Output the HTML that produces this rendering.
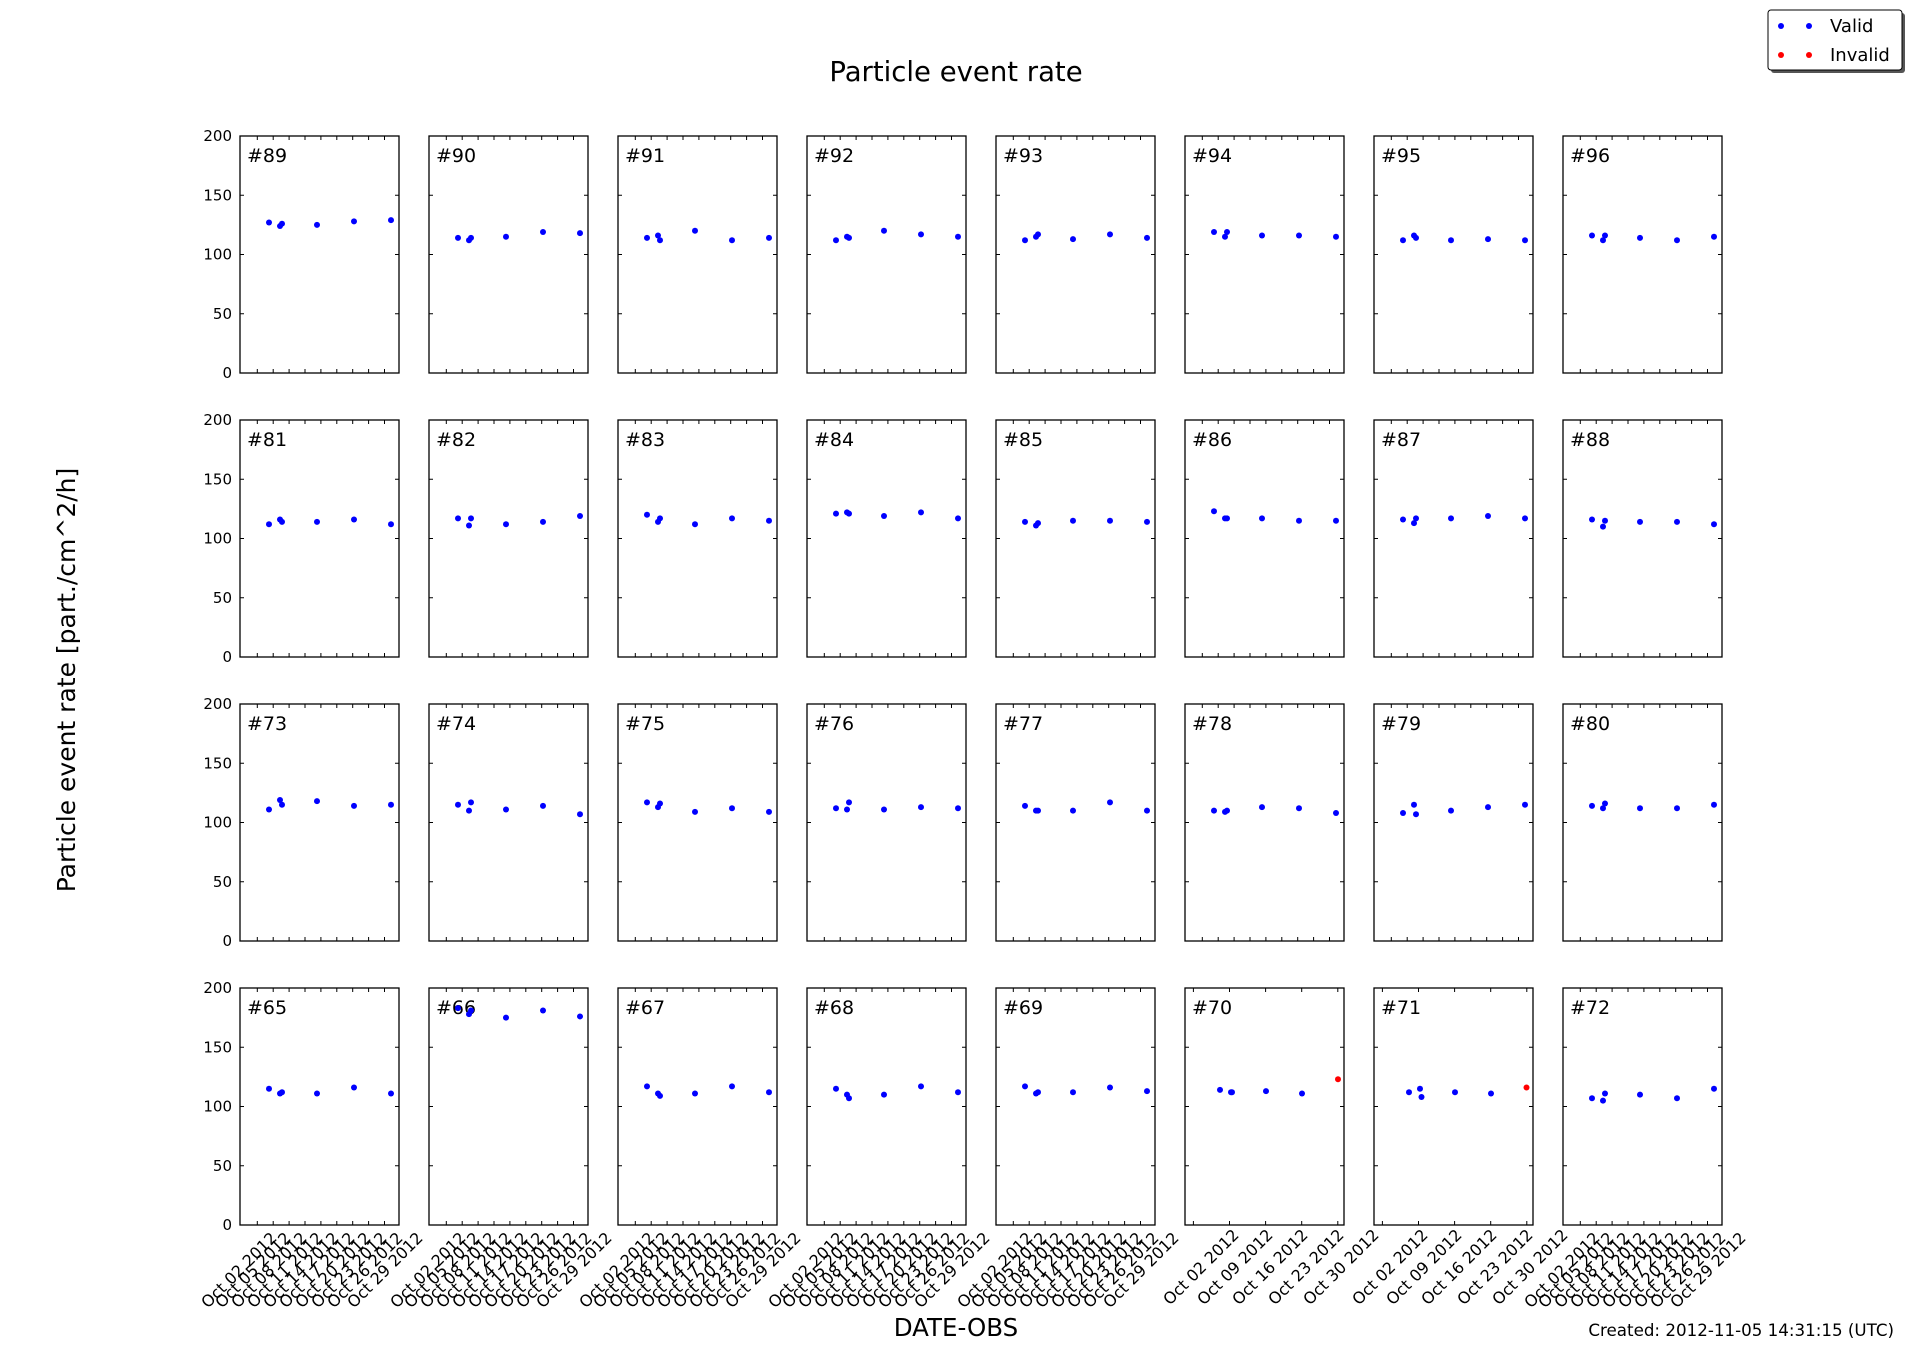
<!DOCTYPE html>
<html><head><meta charset="utf-8"><style>
html,body{margin:0;padding:0;background:#fff;}
svg{display:block;font-family:"DejaVu Sans","Liberation Sans",sans-serif;}
.f{fill:none;stroke:#000;stroke-width:1.3}
.t{fill:none;stroke:#000;stroke-width:1}
.b ellipse{fill:#0000ff;rx:3px;ry:2.53px}
.r{fill:#ff0000 !important}
.yl{font-size:15px;text-anchor:end;dominant-baseline:central}
.pl{font-size:19px}
.dl{font-size:16px;text-anchor:middle;dominant-baseline:central}
</style></head><body>
<svg width="1912" height="1362" viewBox="0 0 1912 1362" xmlns="http://www.w3.org/2000/svg">
<text x="956" y="81" font-size="27.5" text-anchor="middle">Particle event rate</text>
<text transform="translate(75,680) rotate(-90)" font-size="25" text-anchor="middle">Particle event rate [part./cm^2/h]</text>
<text x="956" y="1336" font-size="24.5" text-anchor="middle">DATE-OBS</text>
<text x="1894" y="1336" font-size="16.7" text-anchor="end">Created: 2012-11-05 14:31:15 (UTC)</text>
<!-- legend -->
<rect x="1771" y="13" width="134" height="60" rx="3" fill="#555"/>
<rect x="1768" y="10" width="134" height="60" rx="3" fill="#fff" stroke="#000" stroke-width="1"/>
<circle cx="1781" cy="26" r="3" fill="#0000ff"/><circle cx="1809" cy="26" r="3" fill="#0000ff"/>
<text x="1830" y="32" font-size="18">Valid</text>
<circle cx="1781" cy="55" r="3" fill="#ff0000"/><circle cx="1809" cy="55" r="3" fill="#ff0000"/>
<text x="1830" y="61" font-size="18">Invalid</text>

<!-- Row 1 -->
<g transform="translate(240,136)"><rect class="f" x="0" y="0" width="159" height="237"/><path class="t" d="M0 59.25h4M0 118.5h4M0 177.75h4M159 59.25h-4M159 118.5h-4M159 177.75h-4M17.3 237v-4M33.2 237v-4M49.1 237v-4M65 237v-4M80.9 237v-4M96.8 237v-4M112.7 237v-4M128.6 237v-4M144.5 237v-4M17.3 0v4M33.2 0v4M49.1 0v4M65 0v4M80.9 0v4M96.8 0v4M112.7 0v4M128.6 0v4M144.5 0v4"/><text class="pl" x="7" y="26">#89</text>
<text class="yl" x="-8" y="0">200</text><text class="yl" x="-8" y="59.25">150</text><text class="yl" x="-8" y="118.5">100</text><text class="yl" x="-8" y="177.75">50</text><text class="yl" x="-8" y="237">0</text>
<g class="b" transform="translate(0,237) scale(1,-1.185)"><ellipse cx="29" cy="127"/><ellipse cx="40" cy="124"/><ellipse cx="42" cy="126"/><ellipse cx="77" cy="125"/><ellipse cx="114" cy="128"/><ellipse cx="151" cy="129"/></g></g>
<g transform="translate(429,136)"><rect class="f" x="0" y="0" width="159" height="237"/><path class="t" d="M0 59.25h4M0 118.5h4M0 177.75h4M159 59.25h-4M159 118.5h-4M159 177.75h-4M17.3 237v-4M33.2 237v-4M49.1 237v-4M65 237v-4M80.9 237v-4M96.8 237v-4M112.7 237v-4M128.6 237v-4M144.5 237v-4M17.3 0v4M33.2 0v4M49.1 0v4M65 0v4M80.9 0v4M96.8 0v4M112.7 0v4M128.6 0v4M144.5 0v4"/><text class="pl" x="7" y="26">#90</text>
<g class="b" transform="translate(0,237) scale(1,-1.185)"><ellipse cx="29" cy="114"/><ellipse cx="40" cy="112"/><ellipse cx="42" cy="114"/><ellipse cx="77" cy="115"/><ellipse cx="114" cy="119"/><ellipse cx="151" cy="118"/></g></g>
<g transform="translate(618,136)"><rect class="f" x="0" y="0" width="159" height="237"/><path class="t" d="M0 59.25h4M0 118.5h4M0 177.75h4M159 59.25h-4M159 118.5h-4M159 177.75h-4M17.3 237v-4M33.2 237v-4M49.1 237v-4M65 237v-4M80.9 237v-4M96.8 237v-4M112.7 237v-4M128.6 237v-4M144.5 237v-4M17.3 0v4M33.2 0v4M49.1 0v4M65 0v4M80.9 0v4M96.8 0v4M112.7 0v4M128.6 0v4M144.5 0v4"/><text class="pl" x="7" y="26">#91</text>
<g class="b" transform="translate(0,237) scale(1,-1.185)"><ellipse cx="29" cy="114"/><ellipse cx="40" cy="116"/><ellipse cx="42" cy="112"/><ellipse cx="77" cy="120"/><ellipse cx="114" cy="112"/><ellipse cx="151" cy="114"/></g></g>
<g transform="translate(807,136)"><rect class="f" x="0" y="0" width="159" height="237"/><path class="t" d="M0 59.25h4M0 118.5h4M0 177.75h4M159 59.25h-4M159 118.5h-4M159 177.75h-4M17.3 237v-4M33.2 237v-4M49.1 237v-4M65 237v-4M80.9 237v-4M96.8 237v-4M112.7 237v-4M128.6 237v-4M144.5 237v-4M17.3 0v4M33.2 0v4M49.1 0v4M65 0v4M80.9 0v4M96.8 0v4M112.7 0v4M128.6 0v4M144.5 0v4"/><text class="pl" x="7" y="26">#92</text>
<g class="b" transform="translate(0,237) scale(1,-1.185)"><ellipse cx="29" cy="112"/><ellipse cx="40" cy="115"/><ellipse cx="42" cy="114"/><ellipse cx="77" cy="120"/><ellipse cx="114" cy="117"/><ellipse cx="151" cy="115"/></g></g>
<g transform="translate(996,136)"><rect class="f" x="0" y="0" width="159" height="237"/><path class="t" d="M0 59.25h4M0 118.5h4M0 177.75h4M159 59.25h-4M159 118.5h-4M159 177.75h-4M17.3 237v-4M33.2 237v-4M49.1 237v-4M65 237v-4M80.9 237v-4M96.8 237v-4M112.7 237v-4M128.6 237v-4M144.5 237v-4M17.3 0v4M33.2 0v4M49.1 0v4M65 0v4M80.9 0v4M96.8 0v4M112.7 0v4M128.6 0v4M144.5 0v4"/><text class="pl" x="7" y="26">#93</text>
<g class="b" transform="translate(0,237) scale(1,-1.185)"><ellipse cx="29" cy="112"/><ellipse cx="40" cy="115"/><ellipse cx="42" cy="117"/><ellipse cx="77" cy="113"/><ellipse cx="114" cy="117"/><ellipse cx="151" cy="114"/></g></g>
<g transform="translate(1185,136)"><rect class="f" x="0" y="0" width="159" height="237"/><path class="t" d="M0 59.25h4M0 118.5h4M0 177.75h4M159 59.25h-4M159 118.5h-4M159 177.75h-4M17.3 237v-4M33.2 237v-4M49.1 237v-4M65 237v-4M80.9 237v-4M96.8 237v-4M112.7 237v-4M128.6 237v-4M144.5 237v-4M17.3 0v4M33.2 0v4M49.1 0v4M65 0v4M80.9 0v4M96.8 0v4M112.7 0v4M128.6 0v4M144.5 0v4"/><text class="pl" x="7" y="26">#94</text>
<g class="b" transform="translate(0,237) scale(1,-1.185)"><ellipse cx="29" cy="119"/><ellipse cx="40" cy="115"/><ellipse cx="42" cy="119"/><ellipse cx="77" cy="116"/><ellipse cx="114" cy="116"/><ellipse cx="151" cy="115"/></g></g>
<g transform="translate(1374,136)"><rect class="f" x="0" y="0" width="159" height="237"/><path class="t" d="M0 59.25h4M0 118.5h4M0 177.75h4M159 59.25h-4M159 118.5h-4M159 177.75h-4M17.3 237v-4M33.2 237v-4M49.1 237v-4M65 237v-4M80.9 237v-4M96.8 237v-4M112.7 237v-4M128.6 237v-4M144.5 237v-4M17.3 0v4M33.2 0v4M49.1 0v4M65 0v4M80.9 0v4M96.8 0v4M112.7 0v4M128.6 0v4M144.5 0v4"/><text class="pl" x="7" y="26">#95</text>
<g class="b" transform="translate(0,237) scale(1,-1.185)"><ellipse cx="29" cy="112"/><ellipse cx="40" cy="116"/><ellipse cx="42" cy="114"/><ellipse cx="77" cy="112"/><ellipse cx="114" cy="113"/><ellipse cx="151" cy="112"/></g></g>
<g transform="translate(1563,136)"><rect class="f" x="0" y="0" width="159" height="237"/><path class="t" d="M0 59.25h4M0 118.5h4M0 177.75h4M159 59.25h-4M159 118.5h-4M159 177.75h-4M17.3 237v-4M33.2 237v-4M49.1 237v-4M65 237v-4M80.9 237v-4M96.8 237v-4M112.7 237v-4M128.6 237v-4M144.5 237v-4M17.3 0v4M33.2 0v4M49.1 0v4M65 0v4M80.9 0v4M96.8 0v4M112.7 0v4M128.6 0v4M144.5 0v4"/><text class="pl" x="7" y="26">#96</text>
<g class="b" transform="translate(0,237) scale(1,-1.185)"><ellipse cx="29" cy="116"/><ellipse cx="40" cy="112"/><ellipse cx="42" cy="116"/><ellipse cx="77" cy="114"/><ellipse cx="114" cy="112"/><ellipse cx="151" cy="115"/></g></g>

<!-- Row 2 -->
<g transform="translate(240,420)"><rect class="f" x="0" y="0" width="159" height="237"/><path class="t" d="M0 59.25h4M0 118.5h4M0 177.75h4M159 59.25h-4M159 118.5h-4M159 177.75h-4M17.3 237v-4M33.2 237v-4M49.1 237v-4M65 237v-4M80.9 237v-4M96.8 237v-4M112.7 237v-4M128.6 237v-4M144.5 237v-4M17.3 0v4M33.2 0v4M49.1 0v4M65 0v4M80.9 0v4M96.8 0v4M112.7 0v4M128.6 0v4M144.5 0v4"/><text class="pl" x="7" y="26">#81</text>
<text class="yl" x="-8" y="0">200</text><text class="yl" x="-8" y="59.25">150</text><text class="yl" x="-8" y="118.5">100</text><text class="yl" x="-8" y="177.75">50</text><text class="yl" x="-8" y="237">0</text>
<g class="b" transform="translate(0,237) scale(1,-1.185)"><ellipse cx="29" cy="112"/><ellipse cx="40" cy="116"/><ellipse cx="42" cy="114"/><ellipse cx="77" cy="114"/><ellipse cx="114" cy="116"/><ellipse cx="151" cy="112"/></g></g>
<g transform="translate(429,420)"><rect class="f" x="0" y="0" width="159" height="237"/><path class="t" d="M0 59.25h4M0 118.5h4M0 177.75h4M159 59.25h-4M159 118.5h-4M159 177.75h-4M17.3 237v-4M33.2 237v-4M49.1 237v-4M65 237v-4M80.9 237v-4M96.8 237v-4M112.7 237v-4M128.6 237v-4M144.5 237v-4M17.3 0v4M33.2 0v4M49.1 0v4M65 0v4M80.9 0v4M96.8 0v4M112.7 0v4M128.6 0v4M144.5 0v4"/><text class="pl" x="7" y="26">#82</text>
<g class="b" transform="translate(0,237) scale(1,-1.185)"><ellipse cx="29" cy="117"/><ellipse cx="40" cy="111"/><ellipse cx="42" cy="117"/><ellipse cx="77" cy="112"/><ellipse cx="114" cy="114"/><ellipse cx="151" cy="119"/></g></g>
<g transform="translate(618,420)"><rect class="f" x="0" y="0" width="159" height="237"/><path class="t" d="M0 59.25h4M0 118.5h4M0 177.75h4M159 59.25h-4M159 118.5h-4M159 177.75h-4M17.3 237v-4M33.2 237v-4M49.1 237v-4M65 237v-4M80.9 237v-4M96.8 237v-4M112.7 237v-4M128.6 237v-4M144.5 237v-4M17.3 0v4M33.2 0v4M49.1 0v4M65 0v4M80.9 0v4M96.8 0v4M112.7 0v4M128.6 0v4M144.5 0v4"/><text class="pl" x="7" y="26">#83</text>
<g class="b" transform="translate(0,237) scale(1,-1.185)"><ellipse cx="29" cy="120"/><ellipse cx="40" cy="114"/><ellipse cx="42" cy="117"/><ellipse cx="77" cy="112"/><ellipse cx="114" cy="117"/><ellipse cx="151" cy="115"/></g></g>
<g transform="translate(807,420)"><rect class="f" x="0" y="0" width="159" height="237"/><path class="t" d="M0 59.25h4M0 118.5h4M0 177.75h4M159 59.25h-4M159 118.5h-4M159 177.75h-4M17.3 237v-4M33.2 237v-4M49.1 237v-4M65 237v-4M80.9 237v-4M96.8 237v-4M112.7 237v-4M128.6 237v-4M144.5 237v-4M17.3 0v4M33.2 0v4M49.1 0v4M65 0v4M80.9 0v4M96.8 0v4M112.7 0v4M128.6 0v4M144.5 0v4"/><text class="pl" x="7" y="26">#84</text>
<g class="b" transform="translate(0,237) scale(1,-1.185)"><ellipse cx="29" cy="121"/><ellipse cx="40" cy="122"/><ellipse cx="42" cy="121"/><ellipse cx="77" cy="119"/><ellipse cx="114" cy="122"/><ellipse cx="151" cy="117"/></g></g>
<g transform="translate(996,420)"><rect class="f" x="0" y="0" width="159" height="237"/><path class="t" d="M0 59.25h4M0 118.5h4M0 177.75h4M159 59.25h-4M159 118.5h-4M159 177.75h-4M17.3 237v-4M33.2 237v-4M49.1 237v-4M65 237v-4M80.9 237v-4M96.8 237v-4M112.7 237v-4M128.6 237v-4M144.5 237v-4M17.3 0v4M33.2 0v4M49.1 0v4M65 0v4M80.9 0v4M96.8 0v4M112.7 0v4M128.6 0v4M144.5 0v4"/><text class="pl" x="7" y="26">#85</text>
<g class="b" transform="translate(0,237) scale(1,-1.185)"><ellipse cx="29" cy="114"/><ellipse cx="40" cy="111"/><ellipse cx="42" cy="113"/><ellipse cx="77" cy="115"/><ellipse cx="114" cy="115"/><ellipse cx="151" cy="114"/></g></g>
<g transform="translate(1185,420)"><rect class="f" x="0" y="0" width="159" height="237"/><path class="t" d="M0 59.25h4M0 118.5h4M0 177.75h4M159 59.25h-4M159 118.5h-4M159 177.75h-4M17.3 237v-4M33.2 237v-4M49.1 237v-4M65 237v-4M80.9 237v-4M96.8 237v-4M112.7 237v-4M128.6 237v-4M144.5 237v-4M17.3 0v4M33.2 0v4M49.1 0v4M65 0v4M80.9 0v4M96.8 0v4M112.7 0v4M128.6 0v4M144.5 0v4"/><text class="pl" x="7" y="26">#86</text>
<g class="b" transform="translate(0,237) scale(1,-1.185)"><ellipse cx="29" cy="123"/><ellipse cx="40" cy="117"/><ellipse cx="42" cy="117"/><ellipse cx="77" cy="117"/><ellipse cx="114" cy="115"/><ellipse cx="151" cy="115"/></g></g>
<g transform="translate(1374,420)"><rect class="f" x="0" y="0" width="159" height="237"/><path class="t" d="M0 59.25h4M0 118.5h4M0 177.75h4M159 59.25h-4M159 118.5h-4M159 177.75h-4M17.3 237v-4M33.2 237v-4M49.1 237v-4M65 237v-4M80.9 237v-4M96.8 237v-4M112.7 237v-4M128.6 237v-4M144.5 237v-4M17.3 0v4M33.2 0v4M49.1 0v4M65 0v4M80.9 0v4M96.8 0v4M112.7 0v4M128.6 0v4M144.5 0v4"/><text class="pl" x="7" y="26">#87</text>
<g class="b" transform="translate(0,237) scale(1,-1.185)"><ellipse cx="29" cy="116"/><ellipse cx="40" cy="113"/><ellipse cx="42" cy="117"/><ellipse cx="77" cy="117"/><ellipse cx="114" cy="119"/><ellipse cx="151" cy="117"/></g></g>
<g transform="translate(1563,420)"><rect class="f" x="0" y="0" width="159" height="237"/><path class="t" d="M0 59.25h4M0 118.5h4M0 177.75h4M159 59.25h-4M159 118.5h-4M159 177.75h-4M17.3 237v-4M33.2 237v-4M49.1 237v-4M65 237v-4M80.9 237v-4M96.8 237v-4M112.7 237v-4M128.6 237v-4M144.5 237v-4M17.3 0v4M33.2 0v4M49.1 0v4M65 0v4M80.9 0v4M96.8 0v4M112.7 0v4M128.6 0v4M144.5 0v4"/><text class="pl" x="7" y="26">#88</text>
<g class="b" transform="translate(0,237) scale(1,-1.185)"><ellipse cx="29" cy="116"/><ellipse cx="40" cy="110"/><ellipse cx="42" cy="115"/><ellipse cx="77" cy="114"/><ellipse cx="114" cy="114"/><ellipse cx="151" cy="112"/></g></g>

<!-- Row 3 -->
<g transform="translate(240,704)"><rect class="f" x="0" y="0" width="159" height="237"/><path class="t" d="M0 59.25h4M0 118.5h4M0 177.75h4M159 59.25h-4M159 118.5h-4M159 177.75h-4M17.3 237v-4M33.2 237v-4M49.1 237v-4M65 237v-4M80.9 237v-4M96.8 237v-4M112.7 237v-4M128.6 237v-4M144.5 237v-4M17.3 0v4M33.2 0v4M49.1 0v4M65 0v4M80.9 0v4M96.8 0v4M112.7 0v4M128.6 0v4M144.5 0v4"/><text class="pl" x="7" y="26">#73</text>
<text class="yl" x="-8" y="0">200</text><text class="yl" x="-8" y="59.25">150</text><text class="yl" x="-8" y="118.5">100</text><text class="yl" x="-8" y="177.75">50</text><text class="yl" x="-8" y="237">0</text>
<g class="b" transform="translate(0,237) scale(1,-1.185)"><ellipse cx="29" cy="111"/><ellipse cx="40" cy="119"/><ellipse cx="42" cy="115"/><ellipse cx="77" cy="118"/><ellipse cx="114" cy="114"/><ellipse cx="151" cy="115"/></g></g>
<g transform="translate(429,704)"><rect class="f" x="0" y="0" width="159" height="237"/><path class="t" d="M0 59.25h4M0 118.5h4M0 177.75h4M159 59.25h-4M159 118.5h-4M159 177.75h-4M17.3 237v-4M33.2 237v-4M49.1 237v-4M65 237v-4M80.9 237v-4M96.8 237v-4M112.7 237v-4M128.6 237v-4M144.5 237v-4M17.3 0v4M33.2 0v4M49.1 0v4M65 0v4M80.9 0v4M96.8 0v4M112.7 0v4M128.6 0v4M144.5 0v4"/><text class="pl" x="7" y="26">#74</text>
<g class="b" transform="translate(0,237) scale(1,-1.185)"><ellipse cx="29" cy="115"/><ellipse cx="40" cy="110"/><ellipse cx="42" cy="117"/><ellipse cx="77" cy="111"/><ellipse cx="114" cy="114"/><ellipse cx="151" cy="107"/></g></g>
<g transform="translate(618,704)"><rect class="f" x="0" y="0" width="159" height="237"/><path class="t" d="M0 59.25h4M0 118.5h4M0 177.75h4M159 59.25h-4M159 118.5h-4M159 177.75h-4M17.3 237v-4M33.2 237v-4M49.1 237v-4M65 237v-4M80.9 237v-4M96.8 237v-4M112.7 237v-4M128.6 237v-4M144.5 237v-4M17.3 0v4M33.2 0v4M49.1 0v4M65 0v4M80.9 0v4M96.8 0v4M112.7 0v4M128.6 0v4M144.5 0v4"/><text class="pl" x="7" y="26">#75</text>
<g class="b" transform="translate(0,237) scale(1,-1.185)"><ellipse cx="29" cy="117"/><ellipse cx="40" cy="113"/><ellipse cx="42" cy="116"/><ellipse cx="77" cy="109"/><ellipse cx="114" cy="112"/><ellipse cx="151" cy="109"/></g></g>
<g transform="translate(807,704)"><rect class="f" x="0" y="0" width="159" height="237"/><path class="t" d="M0 59.25h4M0 118.5h4M0 177.75h4M159 59.25h-4M159 118.5h-4M159 177.75h-4M17.3 237v-4M33.2 237v-4M49.1 237v-4M65 237v-4M80.9 237v-4M96.8 237v-4M112.7 237v-4M128.6 237v-4M144.5 237v-4M17.3 0v4M33.2 0v4M49.1 0v4M65 0v4M80.9 0v4M96.8 0v4M112.7 0v4M128.6 0v4M144.5 0v4"/><text class="pl" x="7" y="26">#76</text>
<g class="b" transform="translate(0,237) scale(1,-1.185)"><ellipse cx="29" cy="112"/><ellipse cx="40" cy="111"/><ellipse cx="42" cy="117"/><ellipse cx="77" cy="111"/><ellipse cx="114" cy="113"/><ellipse cx="151" cy="112"/></g></g>
<g transform="translate(996,704)"><rect class="f" x="0" y="0" width="159" height="237"/><path class="t" d="M0 59.25h4M0 118.5h4M0 177.75h4M159 59.25h-4M159 118.5h-4M159 177.75h-4M17.3 237v-4M33.2 237v-4M49.1 237v-4M65 237v-4M80.9 237v-4M96.8 237v-4M112.7 237v-4M128.6 237v-4M144.5 237v-4M17.3 0v4M33.2 0v4M49.1 0v4M65 0v4M80.9 0v4M96.8 0v4M112.7 0v4M128.6 0v4M144.5 0v4"/><text class="pl" x="7" y="26">#77</text>
<g class="b" transform="translate(0,237) scale(1,-1.185)"><ellipse cx="29" cy="114"/><ellipse cx="40" cy="110"/><ellipse cx="42" cy="110"/><ellipse cx="77" cy="110"/><ellipse cx="114" cy="117"/><ellipse cx="151" cy="110"/></g></g>
<g transform="translate(1185,704)"><rect class="f" x="0" y="0" width="159" height="237"/><path class="t" d="M0 59.25h4M0 118.5h4M0 177.75h4M159 59.25h-4M159 118.5h-4M159 177.75h-4M17.3 237v-4M33.2 237v-4M49.1 237v-4M65 237v-4M80.9 237v-4M96.8 237v-4M112.7 237v-4M128.6 237v-4M144.5 237v-4M17.3 0v4M33.2 0v4M49.1 0v4M65 0v4M80.9 0v4M96.8 0v4M112.7 0v4M128.6 0v4M144.5 0v4"/><text class="pl" x="7" y="26">#78</text>
<g class="b" transform="translate(0,237) scale(1,-1.185)"><ellipse cx="29" cy="110"/><ellipse cx="40" cy="109"/><ellipse cx="42" cy="110"/><ellipse cx="77" cy="113"/><ellipse cx="114" cy="112"/><ellipse cx="151" cy="108"/></g></g>
<g transform="translate(1374,704)"><rect class="f" x="0" y="0" width="159" height="237"/><path class="t" d="M0 59.25h4M0 118.5h4M0 177.75h4M159 59.25h-4M159 118.5h-4M159 177.75h-4M17.3 237v-4M33.2 237v-4M49.1 237v-4M65 237v-4M80.9 237v-4M96.8 237v-4M112.7 237v-4M128.6 237v-4M144.5 237v-4M17.3 0v4M33.2 0v4M49.1 0v4M65 0v4M80.9 0v4M96.8 0v4M112.7 0v4M128.6 0v4M144.5 0v4"/><text class="pl" x="7" y="26">#79</text>
<g class="b" transform="translate(0,237) scale(1,-1.185)"><ellipse cx="29" cy="108"/><ellipse cx="40" cy="115"/><ellipse cx="42" cy="107"/><ellipse cx="77" cy="110"/><ellipse cx="114" cy="113"/><ellipse cx="151" cy="115"/></g></g>
<g transform="translate(1563,704)"><rect class="f" x="0" y="0" width="159" height="237"/><path class="t" d="M0 59.25h4M0 118.5h4M0 177.75h4M159 59.25h-4M159 118.5h-4M159 177.75h-4M17.3 237v-4M33.2 237v-4M49.1 237v-4M65 237v-4M80.9 237v-4M96.8 237v-4M112.7 237v-4M128.6 237v-4M144.5 237v-4M17.3 0v4M33.2 0v4M49.1 0v4M65 0v4M80.9 0v4M96.8 0v4M112.7 0v4M128.6 0v4M144.5 0v4"/><text class="pl" x="7" y="26">#80</text>
<g class="b" transform="translate(0,237) scale(1,-1.185)"><ellipse cx="29" cy="114"/><ellipse cx="40" cy="112"/><ellipse cx="42" cy="116"/><ellipse cx="77" cy="112"/><ellipse cx="114" cy="112"/><ellipse cx="151" cy="115"/></g></g>

<!-- Row 4 -->
<g transform="translate(240,988)"><rect class="f" x="0" y="0" width="159" height="237"/><path class="t" d="M0 59.25h4M0 118.5h4M0 177.75h4M159 59.25h-4M159 118.5h-4M159 177.75h-4M17.3 237v-4M33.2 237v-4M49.1 237v-4M65 237v-4M80.9 237v-4M96.8 237v-4M112.7 237v-4M128.6 237v-4M144.5 237v-4M17.3 0v4M33.2 0v4M49.1 0v4M65 0v4M80.9 0v4M96.8 0v4M112.7 0v4M128.6 0v4M144.5 0v4"/><text class="pl" x="7" y="26">#65</text>
<text class="yl" x="-8" y="0">200</text><text class="yl" x="-8" y="59.25">150</text><text class="yl" x="-8" y="118.5">100</text><text class="yl" x="-8" y="177.75">50</text><text class="yl" x="-8" y="237">0</text>
<g class="b" transform="translate(0,237) scale(1,-1.185)"><ellipse cx="29" cy="115"/><ellipse cx="40" cy="111"/><ellipse cx="42" cy="112"/><ellipse cx="77" cy="111"/><ellipse cx="114" cy="116"/><ellipse cx="151" cy="111"/></g>
<g class="dl"><text transform="translate(-1,282) rotate(-45)">Oct 02 2012</text><text transform="translate(13,282) rotate(-45)">Oct 05 2012</text><text transform="translate(29,282) rotate(-45)">Oct 08 2012</text><text transform="translate(45,282) rotate(-45)">Oct 11 2012</text><text transform="translate(61,282) rotate(-45)">Oct 14 2012</text><text transform="translate(77,282) rotate(-45)">Oct 17 2012</text><text transform="translate(93,282) rotate(-45)">Oct 20 2012</text><text transform="translate(109,282) rotate(-45)">Oct 23 2012</text><text transform="translate(125,282) rotate(-45)">Oct 26 2012</text><text transform="translate(145,282) rotate(-45)">Oct 29 2012</text></g></g>
<g transform="translate(429,988)"><rect class="f" x="0" y="0" width="159" height="237"/><path class="t" d="M0 59.25h4M0 118.5h4M0 177.75h4M159 59.25h-4M159 118.5h-4M159 177.75h-4M17.3 237v-4M33.2 237v-4M49.1 237v-4M65 237v-4M80.9 237v-4M96.8 237v-4M112.7 237v-4M128.6 237v-4M144.5 237v-4M17.3 0v4M33.2 0v4M49.1 0v4M65 0v4M80.9 0v4M96.8 0v4M112.7 0v4M128.6 0v4M144.5 0v4"/><text class="pl" x="7" y="26">#66</text>
<g class="b" transform="translate(0,237) scale(1,-1.185)"><ellipse cx="29" cy="183"/><ellipse cx="40" cy="178"/><ellipse cx="42" cy="181"/><ellipse cx="77" cy="175"/><ellipse cx="114" cy="181"/><ellipse cx="151" cy="176"/></g>
<g class="dl"><text transform="translate(-1,282) rotate(-45)">Oct 02 2012</text><text transform="translate(13,282) rotate(-45)">Oct 05 2012</text><text transform="translate(29,282) rotate(-45)">Oct 08 2012</text><text transform="translate(45,282) rotate(-45)">Oct 11 2012</text><text transform="translate(61,282) rotate(-45)">Oct 14 2012</text><text transform="translate(77,282) rotate(-45)">Oct 17 2012</text><text transform="translate(93,282) rotate(-45)">Oct 20 2012</text><text transform="translate(109,282) rotate(-45)">Oct 23 2012</text><text transform="translate(125,282) rotate(-45)">Oct 26 2012</text><text transform="translate(145,282) rotate(-45)">Oct 29 2012</text></g></g>
<g transform="translate(618,988)"><rect class="f" x="0" y="0" width="159" height="237"/><path class="t" d="M0 59.25h4M0 118.5h4M0 177.75h4M159 59.25h-4M159 118.5h-4M159 177.75h-4M17.3 237v-4M33.2 237v-4M49.1 237v-4M65 237v-4M80.9 237v-4M96.8 237v-4M112.7 237v-4M128.6 237v-4M144.5 237v-4M17.3 0v4M33.2 0v4M49.1 0v4M65 0v4M80.9 0v4M96.8 0v4M112.7 0v4M128.6 0v4M144.5 0v4"/><text class="pl" x="7" y="26">#67</text>
<g class="b" transform="translate(0,237) scale(1,-1.185)"><ellipse cx="29" cy="117"/><ellipse cx="40" cy="111"/><ellipse cx="42" cy="109"/><ellipse cx="77" cy="111"/><ellipse cx="114" cy="117"/><ellipse cx="151" cy="112"/></g>
<g class="dl"><text transform="translate(-1,282) rotate(-45)">Oct 02 2012</text><text transform="translate(13,282) rotate(-45)">Oct 05 2012</text><text transform="translate(29,282) rotate(-45)">Oct 08 2012</text><text transform="translate(45,282) rotate(-45)">Oct 11 2012</text><text transform="translate(61,282) rotate(-45)">Oct 14 2012</text><text transform="translate(77,282) rotate(-45)">Oct 17 2012</text><text transform="translate(93,282) rotate(-45)">Oct 20 2012</text><text transform="translate(109,282) rotate(-45)">Oct 23 2012</text><text transform="translate(125,282) rotate(-45)">Oct 26 2012</text><text transform="translate(145,282) rotate(-45)">Oct 29 2012</text></g></g>
<g transform="translate(807,988)"><rect class="f" x="0" y="0" width="159" height="237"/><path class="t" d="M0 59.25h4M0 118.5h4M0 177.75h4M159 59.25h-4M159 118.5h-4M159 177.75h-4M17.3 237v-4M33.2 237v-4M49.1 237v-4M65 237v-4M80.9 237v-4M96.8 237v-4M112.7 237v-4M128.6 237v-4M144.5 237v-4M17.3 0v4M33.2 0v4M49.1 0v4M65 0v4M80.9 0v4M96.8 0v4M112.7 0v4M128.6 0v4M144.5 0v4"/><text class="pl" x="7" y="26">#68</text>
<g class="b" transform="translate(0,237) scale(1,-1.185)"><ellipse cx="29" cy="115"/><ellipse cx="40" cy="110"/><ellipse cx="42" cy="107"/><ellipse cx="77" cy="110"/><ellipse cx="114" cy="117"/><ellipse cx="151" cy="112"/></g>
<g class="dl"><text transform="translate(-1,282) rotate(-45)">Oct 02 2012</text><text transform="translate(13,282) rotate(-45)">Oct 05 2012</text><text transform="translate(29,282) rotate(-45)">Oct 08 2012</text><text transform="translate(45,282) rotate(-45)">Oct 11 2012</text><text transform="translate(61,282) rotate(-45)">Oct 14 2012</text><text transform="translate(77,282) rotate(-45)">Oct 17 2012</text><text transform="translate(93,282) rotate(-45)">Oct 20 2012</text><text transform="translate(109,282) rotate(-45)">Oct 23 2012</text><text transform="translate(125,282) rotate(-45)">Oct 26 2012</text><text transform="translate(145,282) rotate(-45)">Oct 29 2012</text></g></g>
<g transform="translate(996,988)"><rect class="f" x="0" y="0" width="159" height="237"/><path class="t" d="M0 59.25h4M0 118.5h4M0 177.75h4M159 59.25h-4M159 118.5h-4M159 177.75h-4M17.3 237v-4M33.2 237v-4M49.1 237v-4M65 237v-4M80.9 237v-4M96.8 237v-4M112.7 237v-4M128.6 237v-4M144.5 237v-4M17.3 0v4M33.2 0v4M49.1 0v4M65 0v4M80.9 0v4M96.8 0v4M112.7 0v4M128.6 0v4M144.5 0v4"/><text class="pl" x="7" y="26">#69</text>
<g class="b" transform="translate(0,237) scale(1,-1.185)"><ellipse cx="29" cy="117"/><ellipse cx="40" cy="111"/><ellipse cx="42" cy="112"/><ellipse cx="77" cy="112"/><ellipse cx="114" cy="116"/><ellipse cx="151" cy="113"/></g>
<g class="dl"><text transform="translate(-1,282) rotate(-45)">Oct 02 2012</text><text transform="translate(13,282) rotate(-45)">Oct 05 2012</text><text transform="translate(29,282) rotate(-45)">Oct 08 2012</text><text transform="translate(45,282) rotate(-45)">Oct 11 2012</text><text transform="translate(61,282) rotate(-45)">Oct 14 2012</text><text transform="translate(77,282) rotate(-45)">Oct 17 2012</text><text transform="translate(93,282) rotate(-45)">Oct 20 2012</text><text transform="translate(109,282) rotate(-45)">Oct 23 2012</text><text transform="translate(125,282) rotate(-45)">Oct 26 2012</text><text transform="translate(145,282) rotate(-45)">Oct 29 2012</text></g></g>
<g transform="translate(1185,988)"><rect class="f" x="0" y="0" width="159" height="237"/><path class="t" d="M0 59.25h4M0 118.5h4M0 177.75h4M159 59.25h-4M159 118.5h-4M159 177.75h-4M8.4 237v-4M44.5 237v-4M80.6 237v-4M116.7 237v-4M152.8 237v-4M8.4 0v4M44.5 0v4M80.6 0v4M116.7 0v4M152.8 0v4"/><text class="pl" x="7" y="26">#70</text>
<g class="b" transform="translate(0,237) scale(1,-1.185)"><ellipse cx="35" cy="114"/><ellipse cx="46" cy="112"/><ellipse cx="47" cy="112"/><ellipse cx="81" cy="113"/><ellipse cx="117" cy="111"/><ellipse class="r" cx="153" cy="123"/></g>
<g class="dl"><text transform="translate(16,279) rotate(-45)">Oct 02 2012</text><text transform="translate(50,279) rotate(-45)">Oct 09 2012</text><text transform="translate(85,279) rotate(-45)">Oct 16 2012</text><text transform="translate(121,279) rotate(-45)">Oct 23 2012</text><text transform="translate(156,279) rotate(-45)">Oct 30 2012</text></g></g>
<g transform="translate(1374,988)"><rect class="f" x="0" y="0" width="159" height="237"/><path class="t" d="M0 59.25h4M0 118.5h4M0 177.75h4M159 59.25h-4M159 118.5h-4M159 177.75h-4M8.4 237v-4M44.5 237v-4M80.6 237v-4M116.7 237v-4M152.8 237v-4M8.4 0v4M44.5 0v4M80.6 0v4M116.7 0v4M152.8 0v4"/><text class="pl" x="7" y="26">#71</text>
<g class="b" transform="translate(0,237) scale(1,-1.185)"><ellipse cx="35" cy="112"/><ellipse cx="46" cy="115"/><ellipse cx="47.5" cy="108"/><ellipse cx="81" cy="112"/><ellipse cx="117" cy="111"/><ellipse class="r" cx="152.5" cy="116"/></g>
<g class="dl"><text transform="translate(16,279) rotate(-45)">Oct 02 2012</text><text transform="translate(50,279) rotate(-45)">Oct 09 2012</text><text transform="translate(85,279) rotate(-45)">Oct 16 2012</text><text transform="translate(121,279) rotate(-45)">Oct 23 2012</text><text transform="translate(156,279) rotate(-45)">Oct 30 2012</text></g></g>
<g transform="translate(1563,988)"><rect class="f" x="0" y="0" width="159" height="237"/><path class="t" d="M0 59.25h4M0 118.5h4M0 177.75h4M159 59.25h-4M159 118.5h-4M159 177.75h-4M17.3 237v-4M33.2 237v-4M49.1 237v-4M65 237v-4M80.9 237v-4M96.8 237v-4M112.7 237v-4M128.6 237v-4M144.5 237v-4M17.3 0v4M33.2 0v4M49.1 0v4M65 0v4M80.9 0v4M96.8 0v4M112.7 0v4M128.6 0v4M144.5 0v4"/><text class="pl" x="7" y="26">#72</text>
<g class="b" transform="translate(0,237) scale(1,-1.185)"><ellipse cx="29" cy="107"/><ellipse cx="40" cy="105"/><ellipse cx="42" cy="111"/><ellipse cx="77" cy="110"/><ellipse cx="114" cy="107"/><ellipse cx="151" cy="115"/></g>
<g class="dl"><text transform="translate(-1,282) rotate(-45)">Oct 02 2012</text><text transform="translate(13,282) rotate(-45)">Oct 05 2012</text><text transform="translate(29,282) rotate(-45)">Oct 08 2012</text><text transform="translate(45,282) rotate(-45)">Oct 11 2012</text><text transform="translate(61,282) rotate(-45)">Oct 14 2012</text><text transform="translate(77,282) rotate(-45)">Oct 17 2012</text><text transform="translate(93,282) rotate(-45)">Oct 20 2012</text><text transform="translate(109,282) rotate(-45)">Oct 23 2012</text><text transform="translate(125,282) rotate(-45)">Oct 26 2012</text><text transform="translate(145,282) rotate(-45)">Oct 29 2012</text></g></g>
</svg>
</body></html>
